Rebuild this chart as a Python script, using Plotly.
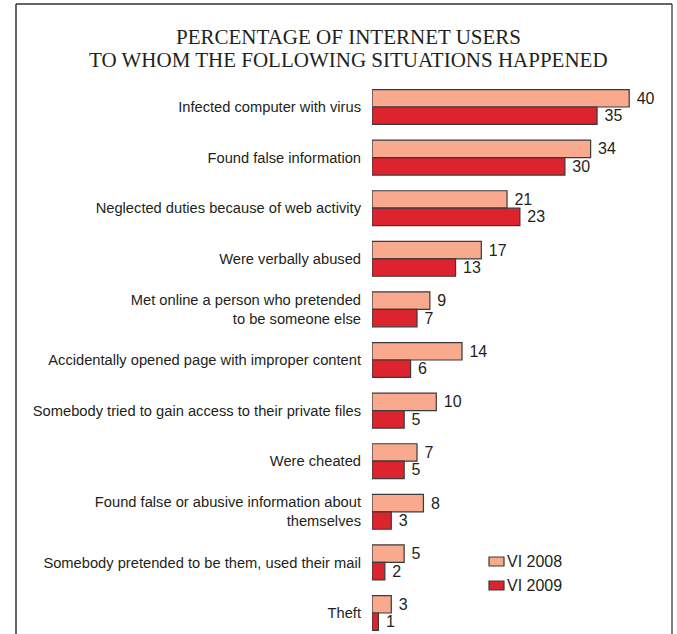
import plotly.graph_objects as go

categories = [
    "Infected computer with virus",
    "Found false information",
    "Neglected duties because of web activity",
    "Were verbally abused",
    "Met online a person who pretended<br>to be someone else",
    "Accidentally opened page with improper content",
    "Somebody tried to gain access to their private files",
    "Were cheated",
    "Found false or abusive information about<br>themselves",
    "Somebody pretended to be them, used their mail",
    "Theft",
]
vi_2008 = [40, 34, 21, 17, 9, 14, 10, 7, 8, 5, 3]
vi_2009 = [35, 30, 23, 13, 7, 6, 5, 5, 3, 2, 1]
series_names = ["VI 2008", "VI 2009"]
title_lines = ["PERCENTAGE OF INTERNET USERS", "TO WHOM THE FOLLOWING SITUATIONS HAPPENED"]
colors = ["#F8A98E", "#DD232D"]
edge = "#3a3a3a"
txt = "#231f20"

W, H = 677, 634
ml, mr, mt, mb = 372, 20, 81, 0
PW, PH = W - ml - mr, H - mt - mb
px_per_unit = 6.43
xmax = PW / px_per_unit
row_px = 50.6
first_center = 107
ytop = (mt - first_center) / row_px
ybot = (H - mb - first_center) / row_px


def px(x):
    return (x - ml) / PW


def py(y):
    return (H - mb - y) / PH


fig = go.Figure()
for name, vals, col in zip(series_names, [vi_2008, vi_2009], colors):
    fig.add_trace(go.Bar(
        y=categories, x=vals, name=name, orientation="h",
        marker=dict(color=col, line=dict(color=edge, width=1.2)),
        text=[" " + str(v) for v in vals], textposition="outside", cliponaxis=False,
        textfont=dict(family="Liberation Sans, Arial", size=16, color=txt),
        showlegend=False,
    ))

shapes = []
# frame
fx0, fx1, fy0 = 16, 672, 4
shapes.append(dict(type="line", xref="paper", yref="paper", x0=px(fx0), x1=px(fx0), y0=py(fy0), y1=py(H + 10),
                   line=dict(color="#333333", width=1.5)))
shapes.append(dict(type="line", xref="paper", yref="paper", x0=px(fx1), x1=px(fx1), y0=py(fy0), y1=py(H + 10),
                   line=dict(color="#555555", width=1.5)))
shapes.append(dict(type="line", xref="paper", yref="paper", x0=px(fx0), x1=px(fx1), y0=py(fy0), y1=py(fy0),
                   line=dict(color="#333333", width=1.5)))

annotations = []
# title
for i, line in enumerate(title_lines):
    annotations.append(dict(text=line, xref="paper", yref="paper", x=px(348), y=py(37 + 23 * i),
                            xanchor="center", yanchor="middle", showarrow=False,
                            font=dict(family="Liberation Serif, Times New Roman", size=21, color=txt)))
# legend
for i, (name, col) in enumerate(zip(series_names, colors)):
    yc = 561.5 + 24 * i
    shapes.append(dict(type="rect", xref="paper", yref="paper", x0=px(489), x1=px(504),
                       y0=py(yc - 4.5), y1=py(yc + 4.5), fillcolor=col, line=dict(color=edge, width=1.2)))
    annotations.append(dict(text=name, xref="paper", yref="paper", x=px(505), y=py(yc),
                            xanchor="left", yanchor="middle", showarrow=False,
                            font=dict(family="Liberation Sans, Arial", size=16, color=txt)))

fig.update_layout(
    width=W, height=H,
    margin=dict(l=ml, r=mr, t=mt, b=mb),
    paper_bgcolor="white", plot_bgcolor="white",
    barmode="group", bargap=0.31, bargroupgap=0,
    showlegend=False,
    xaxis=dict(range=[0, xmax], visible=False, showgrid=False, zeroline=False),
    yaxis=dict(range=[ybot, ytop], type="category", showgrid=False, zeroline=False,
               showline=False, ticks="", ticklabelstandoff=10,
               tickfont=dict(family="Liberation Sans, Arial", size=14.7, color=txt)),
    shapes=shapes,
    annotations=annotations,
)
fig.write_html("out.html")
